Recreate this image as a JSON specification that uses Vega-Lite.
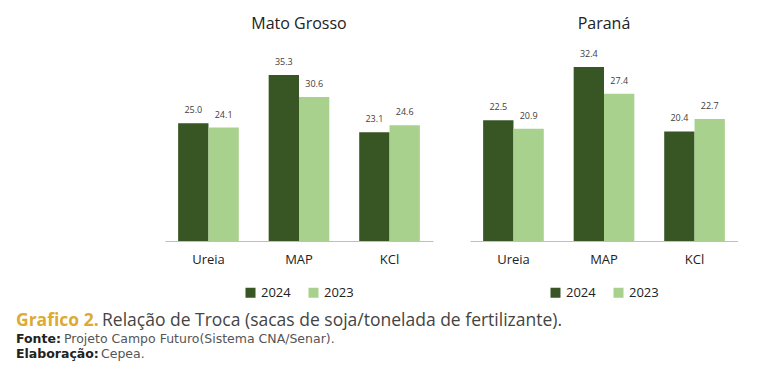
{
  "$schema": "https://vega.github.io/schema/vega-lite/v6.json",
  "padding": {"left": 16, "top": 16, "right": 0, "bottom": 0},
  "background": "#ffffff",
  "config": {
    "view": {"stroke": null},
    "font": "Open Sans",
    "legend": {"layout": {"bottom": {"anchor": "middle"}}}
  },
  "datasets": {
    "bars": [
      {"state": "Mato Grosso", "product": "Ureia", "year": "2024", "value": 25.0},
      {"state": "Mato Grosso", "product": "Ureia", "year": "2023", "value": 24.1},
      {"state": "Mato Grosso", "product": "MAP", "year": "2024", "value": 35.3},
      {"state": "Mato Grosso", "product": "MAP", "year": "2023", "value": 30.6},
      {"state": "Mato Grosso", "product": "KCl", "year": "2024", "value": 23.1},
      {"state": "Mato Grosso", "product": "KCl", "year": "2023", "value": 24.6},
      {"state": "Paraná", "product": "Ureia", "year": "2024", "value": 22.5},
      {"state": "Paraná", "product": "Ureia", "year": "2023", "value": 20.9},
      {"state": "Paraná", "product": "MAP", "year": "2024", "value": 32.4},
      {"state": "Paraná", "product": "MAP", "year": "2023", "value": 27.4},
      {"state": "Paraná", "product": "KCl", "year": "2024", "value": 20.4},
      {"state": "Paraná", "product": "KCl", "year": "2023", "value": 22.7}
    ],
    "caption": [
      {"line": "1", "label": "Grafico 2.", "text": "Relação de Troca (sacas de soja/tonelada de fertilizante)."},
      {"line": "2", "label": "Fonte:", "text": "Projeto Campo Futuro(Sistema CNA/Senar)."},
      {"line": "3", "label": "Elaboração:", "text": "Cepea."}
    ]
  },
  "bounds": "flush",
  "columns": 2,
  "spacing": {"row": 10, "column": 37},
  "concat": [
    {
      "title": {"text": "Mato Grosso", "fontSize": 16, "font": "Open Sans", "fontWeight": "normal", "color": "#222222", "anchor": "middle", "baseline": "alphabetic", "offset": -4},
      "width": 268,
      "height": 200,
      "data": {"name": "bars"},
      "transform": [{"filter": "datum.state === 'Mato Grosso'"}],
      "encoding": {
        "x": {"field": "product", "type": "nominal", "sort": ["Ureia", "MAP", "KCl"],
          "scale": {"paddingInner": 0.33, "paddingOuter": 0.145},
          "axis": {"title": null, "labelAngle": 0, "ticks": false, "labelPadding": 12, "labelFontSize": 13, "labelColor": "#222222", "labelFont": "Open Sans", "domainColor": "#BFBFBF", "domainWidth": 1.2}},
        "xOffset": {"field": "year", "type": "nominal", "sort": ["2024", "2023"]},
        "y": {"field": "value", "type": "quantitative", "scale": {"domain": [0, 42.5]}, "axis": null}
      },
      "layer": [
        {"mark": {"type": "bar"},
         "encoding": {"color": {"field": "year", "type": "nominal", "sort": ["2024", "2023"],
           "scale": {"domain": ["2024", "2023"], "range": ["#375623", "#A9D18E"]},
           "legend": {"title": null, "orient": "bottom", "direction": "horizontal", "symbolType": "square", "symbolSize": 100, "symbolStrokeWidth": 0, "labelFontSize": 13, "labelFont": "Open Sans", "labelColor": "#222222", "labelOffset": 4, "columnPadding": 16, "offset": 20}}}},
        {"mark": {"type": "text", "baseline": "middle", "dy": -13, "fontSize": 9, "color": "#404040", "font": "Open Sans"},
         "encoding": {"text": {"field": "value", "type": "quantitative", "format": ".1f"}}}
      ]
    },
    {
      "title": {"text": "Paraná", "fontSize": 16, "font": "Open Sans", "fontWeight": "normal", "color": "#222222", "anchor": "middle", "baseline": "alphabetic", "offset": -4},
      "width": 268,
      "height": 200,
      "data": {"name": "bars"},
      "transform": [{"filter": "datum.state === 'Paraná'"}],
      "encoding": {
        "x": {"field": "product", "type": "nominal", "sort": ["Ureia", "MAP", "KCl"],
          "scale": {"paddingInner": 0.33, "paddingOuter": 0.145},
          "axis": {"title": null, "labelAngle": 0, "ticks": false, "labelPadding": 12, "labelFontSize": 13, "labelColor": "#222222", "labelFont": "Open Sans", "domainColor": "#BFBFBF", "domainWidth": 1.2}},
        "xOffset": {"field": "year", "type": "nominal", "sort": ["2024", "2023"]},
        "y": {"field": "value", "type": "quantitative", "scale": {"domain": [0, 37.24]}, "axis": null}
      },
      "layer": [
        {"mark": {"type": "bar"},
         "encoding": {"color": {"field": "year", "type": "nominal", "sort": ["2024", "2023"],
           "scale": {"domain": ["2024", "2023"], "range": ["#375623", "#A9D18E"]},
           "legend": {"title": null, "orient": "bottom", "direction": "horizontal", "symbolType": "square", "symbolSize": 100, "symbolStrokeWidth": 0, "labelFontSize": 13, "labelFont": "Open Sans", "labelColor": "#222222", "labelOffset": 4, "columnPadding": 16, "offset": 20}}}},
        {"mark": {"type": "text", "baseline": "middle", "dy": -13, "fontSize": 9, "color": "#404040", "font": "Open Sans"},
         "encoding": {"text": {"field": "value", "type": "quantitative", "format": ".1f"}}}
      ]
    },
    {
      "width": 268,
      "height": 1,
      "data": {"name": "caption"},
      "layer": [
        {"transform": [{"filter": "datum.line === '1'"}],
         "mark": {"type": "text", "align": "left", "baseline": "alphabetic", "fontSize": 17.5, "fontWeight": "bold", "color": "#DDAA33", "font": "Open Sans"},
         "encoding": {"text": {"field": "label"}, "x": {"value": -149}, "y": {"value": 75}}},
        {"transform": [{"filter": "datum.line === '1'"}],
         "mark": {"type": "text", "align": "left", "baseline": "alphabetic", "fontSize": 17.5, "color": "#444444", "font": "Open Sans"},
         "encoding": {"text": {"field": "text"}, "x": {"value": -63}, "y": {"value": 75}}},
        {"transform": [{"filter": "datum.line === '2'"}],
         "mark": {"type": "text", "align": "left", "baseline": "alphabetic", "fontSize": 12.5, "fontWeight": "bold", "color": "#222222", "font": "DejaVu Sans"},
         "encoding": {"text": {"field": "label"}, "x": {"value": -149}, "y": {"value": 92}}},
        {"transform": [{"filter": "datum.line === '2'"}],
         "mark": {"type": "text", "align": "left", "baseline": "alphabetic", "fontSize": 12.5, "color": "#555555", "font": "DejaVu Sans"},
         "encoding": {"text": {"field": "text"}, "x": {"value": -101}, "y": {"value": 92}}},
        {"transform": [{"filter": "datum.line === '3'"}],
         "mark": {"type": "text", "align": "left", "baseline": "alphabetic", "fontSize": 12.5, "fontWeight": "bold", "color": "#222222", "font": "DejaVu Sans"},
         "encoding": {"text": {"field": "label"}, "x": {"value": -149}, "y": {"value": 107}}},
        {"transform": [{"filter": "datum.line === '3'"}],
         "mark": {"type": "text", "align": "left", "baseline": "alphabetic", "fontSize": 12.5, "color": "#555555", "font": "DejaVu Sans"},
         "encoding": {"text": {"field": "text"}, "x": {"value": -64}, "y": {"value": 107}}}
      ]
    }
  ],
  "resolve": {"scale": {"y": "independent", "color": "independent"}, "legend": {"color": "independent"}}
}
